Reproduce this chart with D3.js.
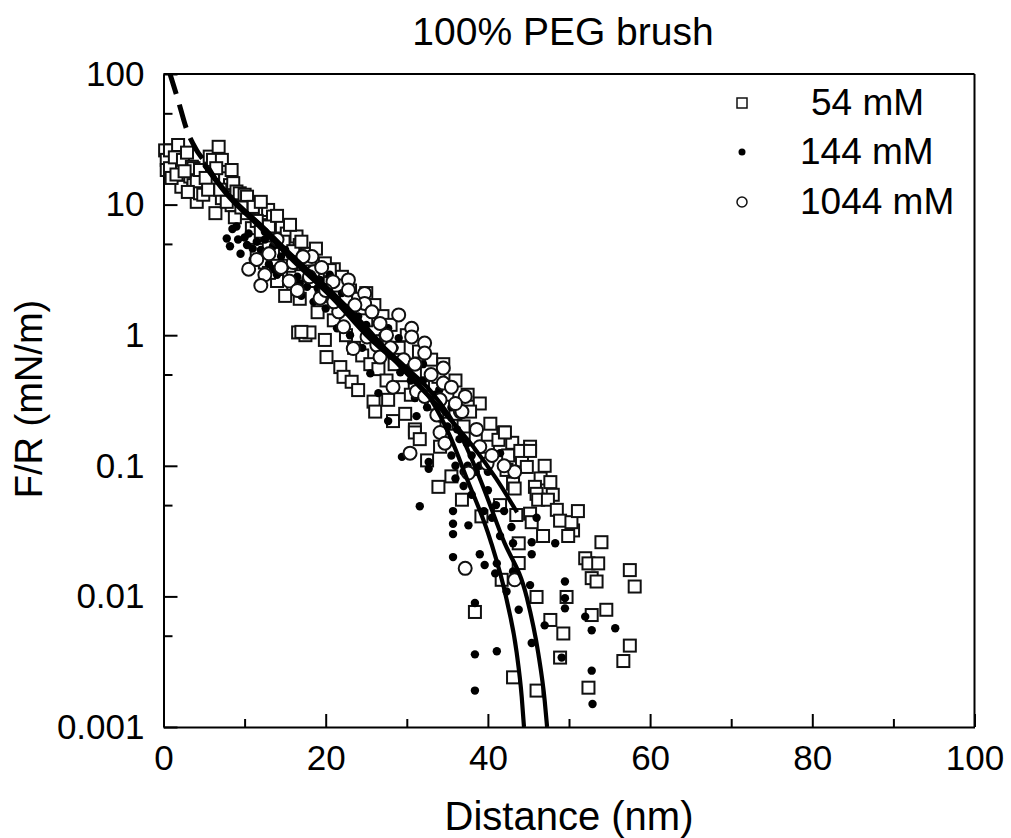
<!DOCTYPE html>
<html>
<head>
<meta charset="utf-8">
<script src="https://cdn.jsdelivr.net/npm/d3@7"></script>
<style>
  html, body { margin: 0; padding: 0; background: #fff; }
  svg { display: block; }
  text { font-family: "Liberation Sans", Arial, sans-serif; fill: #000; }
</style>
</head>
<body>
<svg id="chart" width="1011" height="838"></svg>
<script>
// ---------------- data ----------------
const chartTitle = "100% PEG brush";
const xTitle = "Distance (nm)";
const yTitle = "F/R (mN/m)";
const xMajorTicks = [0, 20, 40, 60, 80, 100];
const xMinorTicks = [10, 30, 50, 70, 90];
const yMajorTicks = [100, 10, 1, 0.1, 0.01, 0.001];
const yTickLabels = ["100", "10", "1", "0.1", "0.01", "0.001"];
const yMinorTicks = [50, 5, 0.5, 0.05, 0.005];
const seriesNames = ["54 mM", "144 mM", "1044 mM"];

// 54 mM (open squares): [distance nm, F/R mN/m]
const s54 = [
  [0.2,26],[0.4,22],[0.4,18.4],[0.8,26],[0.8,19],[1.4,23],[1.8,28.6],[2.2,13.7],[2.4,22],[2.9,25],
  [3.3,16.4],[3.5,19.5],[3.7,19],[3.7,14.1],[4.1,15],[4.1,10.5],[4.5,18.4],[4.5,12.2],[4.9,11.9],[5.7,23.3],
  [6.1,15.9],[6.1,22],[6.4,8.6],[6.8,27.7],[7.2,22],[7.2,11.2],[7.6,15.9],[8.2,14.1],[8.4,18.4],[8.4,9.9],
  [8.6,14.6],[9.0,12.6],[9.4,12.2],[10.0,11.9],[10.3,8.6],[10.3,11.5],[10.5,9.6],[10.9,6.6],[11.1,9.6],[12.5,8.6],
  [12.9,9.1],[13.5,7.6],[13.5,8.1],[12.7,5.8],[14.0,6.4],[14.6,6.8],[15.2,6.0],[16.4,5.7],[16.8,4.9],[17.7,4.2],
  [11.5,4.5],[12.5,3.6],[13.5,4.2],[14.5,3.0],[15.5,3.4],[16.0,2.4],[16.8,1.9],[16.6,1.05],[17.5,1.0],[18.0,1.05],
  [18.5,2.6],[19.0,1.5],[19.5,2.0],[15.0,2.0],[14.0,2.6],[13.0,3.0],
  [1.0,16],[1.6,17],[2.6,18],[3.0,12.5],[5.2,16],[5.5,13],[6.5,19],[7.0,13],[7.8,10.5],[8.8,8],
  [9.6,9.5],[11.5,7.5],[12.0,10.5],[12.0,6.2],[13.0,6.8],[14.0,8.2],[14.8,5.2],[15.6,7],[16.0,4.4],[17.0,5.2],
  [17.2,3.5],[18.0,3.8],[18.8,4.6],[19.2,3.0],[20.5,2.5],[21.0,3.2],[22.0,2.8],[23.0,2.2],[24.0,1.9],[25.0,2.1],
  [26.0,1.7],[27.0,1.4],[28.0,1.2],[30.0,1.0],[31.5,0.75],[33.0,0.65],[34.5,0.6],[36.0,0.45],[37.5,0.35],[39.0,0.3],
  [38.5,0.16],[40.0,0.14],[42.5,0.12],[43.0,0.15],[46.5,0.08],[47.0,0.1],[48.0,0.06],[50.5,0.032],
  [19.9,3.55],[20.5,3.15],[17.0,1.06],[19.9,0.92],[20.1,0.68],[21.8,0.57],[22.2,0.48],[23.2,0.44],[24.0,0.38],[25.9,0.31],
  [26.1,0.26],[27.7,0.32],[28.3,0.22],[31.0,0.19],[33.9,0.48],[34.9,0.21],[37.8,0.26],[40.3,0.21],[41.9,0.18],[45.2,0.14],
  [21.0,1.3],[22.5,1.0],[23.5,0.8],[24.5,0.7],[25.5,0.6],[26.5,0.55],[27.5,0.45],[28.5,0.6],[29.5,0.4],[30.5,0.35],
  [23.0,1.6],[25.0,1.3],[21.5,2.4],[22.5,1.9],[27.0,0.9],[29.0,0.8],[31.0,0.5],[32.0,0.4],[33.0,0.3],[35.0,0.35],
  [36.0,0.25],[37.0,0.2],
  [29.8,0.25],[31.0,0.18],[31.6,0.16],[32.5,0.11],[33.3,0.30],[34.1,0.14],[33.9,0.069],[35.5,0.083],[36.8,0.055],[39.2,0.041],
  [41.3,0.158],[41.5,0.050],[42.1,0.18],[41.7,0.0134],[42.3,0.093],[43.1,0.073],[43.3,0.067],[43.5,0.042],[43.8,0.0255],[43.8,0.018],
  [44.2,0.11],[44.0,0.13],[44.8,0.098],[45.2,0.13],[45.2,0.043],[45.4,0.037],[45.8,0.069],[46.0,0.061],[46.2,0.055],[46.0,0.0099],
  [46.8,0.029],[47.4,0.055],[47.7,0.075],[47.7,0.0066],[48.5,0.046],[48.9,0.038],[49.3,0.0052],[48.9,0.0034],[49.7,0.0099],[49.9,0.029],
  [50.3,0.037],[51.1,0.045],[52.0,0.0196],[52.4,0.0179],[53.6,0.0179],[52.8,0.0138],[53.4,0.013],[54.0,0.026],[52.8,0.0072],[54.6,0.0079],
  [57.5,0.0159],[58.1,0.0119],[57.5,0.0042],[56.7,0.0032],[43.1,0.0024],[46.0,0.0019],[52.4,0.0020],[38.4,0.0076]
];

// 144 mM (filled dots)
const s144 = [
  [7.8,5.5],[8.2,4.8],[8.5,6.5],[9.2,5.4],[9.5,4.2],[10.3,4.9],[10.5,6.0],[11.0,3.8],[11.5,5.2],[12.0,4.5],
  [12.5,6.2],[13.0,3.5],[13.5,4.8],[14.0,2.9],[14.5,4.0],[15.0,3.3],[15.5,2.5],[16.0,3.8],[16.5,2.8],[17.0,2.0],
  [18.0,3.1],[18.5,1.8],[19.0,2.3],[20.0,1.6],[20.5,2.9],[21.0,1.9],
  [9.0,6.8],[10.0,5.6],[11.0,4.6],[12.5,5.4],[13.5,3.2],[15.0,4.5],[17.5,2.7],[19.5,1.9],[22.0,2.1],[23.5,1.8],
  [25.0,1.2],[27.0,1.0],[28.5,0.8],[30.5,0.45],[32.0,0.6],[33.5,0.35],[34.5,0.15],[35.5,0.12],[36.0,0.1],[37.0,0.09],
  [16.8,2.49],[17.7,2.35],[19.3,2.65],[21.4,1.13],[22.2,1.56],[24.0,1.39],[26.1,1.51],[27.7,1.13],[29.0,0.95],[25.5,0.51],
  [26.5,0.36],[27.7,0.22],[29.2,0.52],[31.0,0.33],[32.5,0.28],[34.1,0.23],[35.5,0.28],[36.2,0.19],[37.4,0.149],[31.2,0.24],
  [23.0,1.0],[24.5,0.8],[26.0,0.9],[28.0,0.7],[30.0,0.6],[32.0,0.45],[33.0,0.5],[34.0,0.38],[35.0,0.2],[36.5,0.16],
  [38.0,0.12],[39.0,0.1],[40.0,0.09],
  [31.6,0.049],[35.7,0.045],[35.7,0.036],[35.7,0.030],[35.7,0.020],[37.6,0.035],[39.0,0.021],[39.6,0.0174],[41.1,0.0179],[40.9,0.015],
  [41.5,0.029],[42.3,0.0109],[42.9,0.034],[43.1,0.0155],[43.8,0.0079],[45.2,0.0122],[45.4,0.026],[45.4,0.021],[45.4,0.0044],[46.0,0.040],
  [47.0,0.0060],[48.3,0.0255],[49.5,0.013],[49.5,0.0097],[49.5,0.0081],[52.0,0.0070],[52.8,0.0055],[52.8,0.0027],[55.7,0.0057],[38.4,0.0089],
  [38.4,0.0036],[41.1,0.0038],[38.4,0.0019],[49.1,0.0034],[41.5,0.125],[43.1,0.0255],[29.4,0.117],[32.7,0.107],[32.7,0.095],[52.9,0.0015],
  [37.0,0.07],[38.0,0.06],[39.5,0.045],[40.5,0.04],[41.0,0.05],[42.0,0.045],[38.5,0.09],[40.0,0.065],[37.5,0.1],[36.0,0.08]
];

// 1044 mM (open circles)
const s1044 = [
  [14.0,5.4],[17.2,4.0],[18.3,4.0],[10.5,3.2],[11.5,3.8],[12.5,2.9],[13.0,4.2],[14.5,3.3],[15.5,2.6],[16.0,3.6],
  [16.5,2.2],[12.0,2.4],
  [17.2,3.99],[18.5,3.06],[20.9,2.57],[22.8,2.65],[22.8,2.22],[24.8,2.09],[24.8,1.75],[19.3,1.92],[21.6,1.51],[22.2,1.16],
  [23.6,1.70],[25.7,1.51],[26.7,1.23],[29.0,1.43],[30.6,1.13],[30.6,0.97],[32.2,0.87],[32.2,0.73],[23.4,0.79],[25.1,0.97],
  [26.3,0.84],[26.7,0.68],[28.3,0.40],[29.6,0.65],[31.2,0.37],[32.2,0.34],[34.1,0.32],[34.5,0.56],[34.5,0.43],[37.2,0.34],
  [36.6,0.26],[38.6,0.19],
  [30.4,0.125],[33.7,0.245],[34.1,0.18],[34.7,0.149],[37.6,0.088],[43.3,0.090],[43.3,0.0134],[37.2,0.0164],[36.8,0.26],[39.9,0.104],
  [18.0,2.8],[19.5,3.3],[20.0,2.2],[21.0,1.8],[27.5,1.0],[28.0,0.8],[33.0,0.5],[31.0,0.6],[35.5,0.4],[36.0,0.3],
  [39.0,0.14],[40.5,0.12],[42.0,0.1]
];

// fitted curves
const fit1Dashed = [[0.7,105],[1.8,63],[2.9,37],[4.1,26],[4.9,22],[6.3,16]];
const fit1 = [[6.3,16],[7.8,12.2],[12,7],[16,4],[20.9,2.1],[25,1.15],[29.6,0.54],[34,0.28],[38.2,0.14],[41,0.08],[43.6,0.044]];
const fit2 = [[5,20],[8,11.5],[12,6.6],[16,3.7],[20.9,1.9],[25,1.0],[30,0.52],[33,0.32],[35.3,0.17],[37.4,0.08],[40.3,0.027],[42.3,0.0095],[43.55,0.0037],[44.17,0.0017],[44.45,0.001]];
const fit3 = [[5,20.5],[8,12],[12,6.9],[16,3.9],[20.9,2.0],[25,1.08],[30,0.56],[33,0.37],[36.9,0.16],[39,0.08],[41.9,0.027],[44.8,0.0098],[46.2,0.0037],[47.0,0.0016],[47.3,0.001]];

// ---------------- chart ----------------
const svg = d3.select("#chart");
const L = 163.5, R = 974.5, T = 74, B = 727;
const x = d3.scaleLinear().domain([0, 100]).range([L, R]);
const y = d3.scaleLog().domain([0.001, 100]).range([B, T]);

svg.append("defs").append("clipPath").attr("id", "clip")
  .append("rect").attr("x", L).attr("y", T).attr("width", R - L).attr("height", B - T);

// frame top & right
svg.append("line").attr("x1", L).attr("x2", R).attr("y1", T).attr("y2", T)
  .attr("stroke", "#000").attr("stroke-width", 2);
svg.append("line").attr("x1", R).attr("x2", R).attr("y1", T).attr("y2", B)
  .attr("stroke", "#000").attr("stroke-width", 2);

// x axis
svg.append("g").attr("transform", `translate(0,${B})`)
  .call(d3.axisBottom(x).tickValues(xMajorTicks).tickSizeInner(-13).tickSizeOuter(0).tickPadding(18).tickFormat(d3.format("d")));
const gxm = svg.append("g").attr("transform", `translate(0,${B})`)
  .call(d3.axisBottom(x).tickValues(xMinorTicks).tickSizeInner(-8).tickSizeOuter(0).tickFormat(""));
gxm.select(".domain").remove();

// y axis
svg.append("g").attr("transform", `translate(${L},0)`)
  .call(d3.axisLeft(y).tickValues(yMajorTicks).tickSizeInner(-14).tickSizeOuter(0).tickPadding(19)
    .tickFormat((d, i) => yTickLabels[i]));
const gym = svg.append("g").attr("transform", `translate(${L},0)`)
  .call(d3.axisLeft(y).tickValues(yMinorTicks).tickSizeInner(-9).tickSizeOuter(0).tickFormat(""));
gym.select(".domain").remove();

svg.selectAll(".domain").attr("stroke", "#000").attr("stroke-width", 2);
svg.selectAll(".tick line").attr("stroke", "#000").attr("stroke-width", 2);
svg.selectAll(".tick text").attr("font-size", 35).attr("font-family", "Liberation Sans, Arial, sans-serif").attr("fill", "#000");

// scatter
const gp = svg.append("g");
const sq = 12;
gp.selectAll("rect.s54").data(s54).join("rect").attr("class", "s54")
  .attr("x", d => x(d[0]) - sq / 2).attr("y", d => y(d[1]) - sq / 2)
  .attr("width", sq).attr("height", sq)
  .attr("fill", "#fff").attr("stroke", "#111").attr("stroke-width", 2);
gp.selectAll("circle.s144").data(s144).join("circle").attr("class", "s144")
  .attr("cx", d => x(d[0])).attr("cy", d => y(d[1])).attr("r", 4.2)
  .attr("fill", "#000");
gp.selectAll("circle.s1044").data(s1044).join("circle").attr("class", "s1044")
  .attr("cx", d => x(d[0])).attr("cy", d => y(d[1])).attr("r", 6.5)
  .attr("fill", "#fff").attr("stroke", "#111").attr("stroke-width", 2);

// fit lines
const line = d3.line().x(d => x(d[0])).y(d => y(d[1])).curve(d3.curveMonotoneX);
const gl = svg.append("g").attr("clip-path", "url(#clip)");
[fit1, fit2, fit3].forEach(f => {
  gl.append("path").attr("d", line(f)).attr("fill", "none")
    .attr("stroke", "#000").attr("stroke-width", 4.2);
});
gl.append("path").attr("d", line(fit1Dashed)).attr("fill", "none")
  .attr("stroke", "#000").attr("stroke-width", 5).attr("stroke-dasharray", "24,11");

// legend
const lg = svg.append("g");
const lx = 742, ly = [103, 152, 202], tx = [811, 800, 800], tby = [115, 164, 214];
lg.append("rect").attr("x", lx - 5).attr("y", ly[0] - 5).attr("width", 10).attr("height", 10)
  .attr("fill", "#fff").attr("stroke", "#111").attr("stroke-width", 1.5);
lg.append("circle").attr("cx", lx).attr("cy", ly[1]).attr("r", 3.5).attr("fill", "#000");
lg.append("circle").attr("cx", lx).attr("cy", ly[2]).attr("r", 5)
  .attr("fill", "#fff").attr("stroke", "#111").attr("stroke-width", 1.5);
seriesNames.forEach((n, i) => {
  lg.append("text").attr("x", tx[i]).attr("y", tby[i]).attr("font-size", 37).text(n);
});

// titles
svg.append("text").attr("x", 563).attr("y", 45).attr("text-anchor", "middle")
  .attr("font-size", 39).text(chartTitle);
svg.append("text").attr("x", 569).attr("y", 830).attr("text-anchor", "middle")
  .attr("font-size", 40).text(xTitle);
svg.append("text").attr("transform", "translate(42,399) rotate(-90)").attr("text-anchor", "middle")
  .attr("font-size", 38).text(yTitle);
</script>
</body>
</html>
